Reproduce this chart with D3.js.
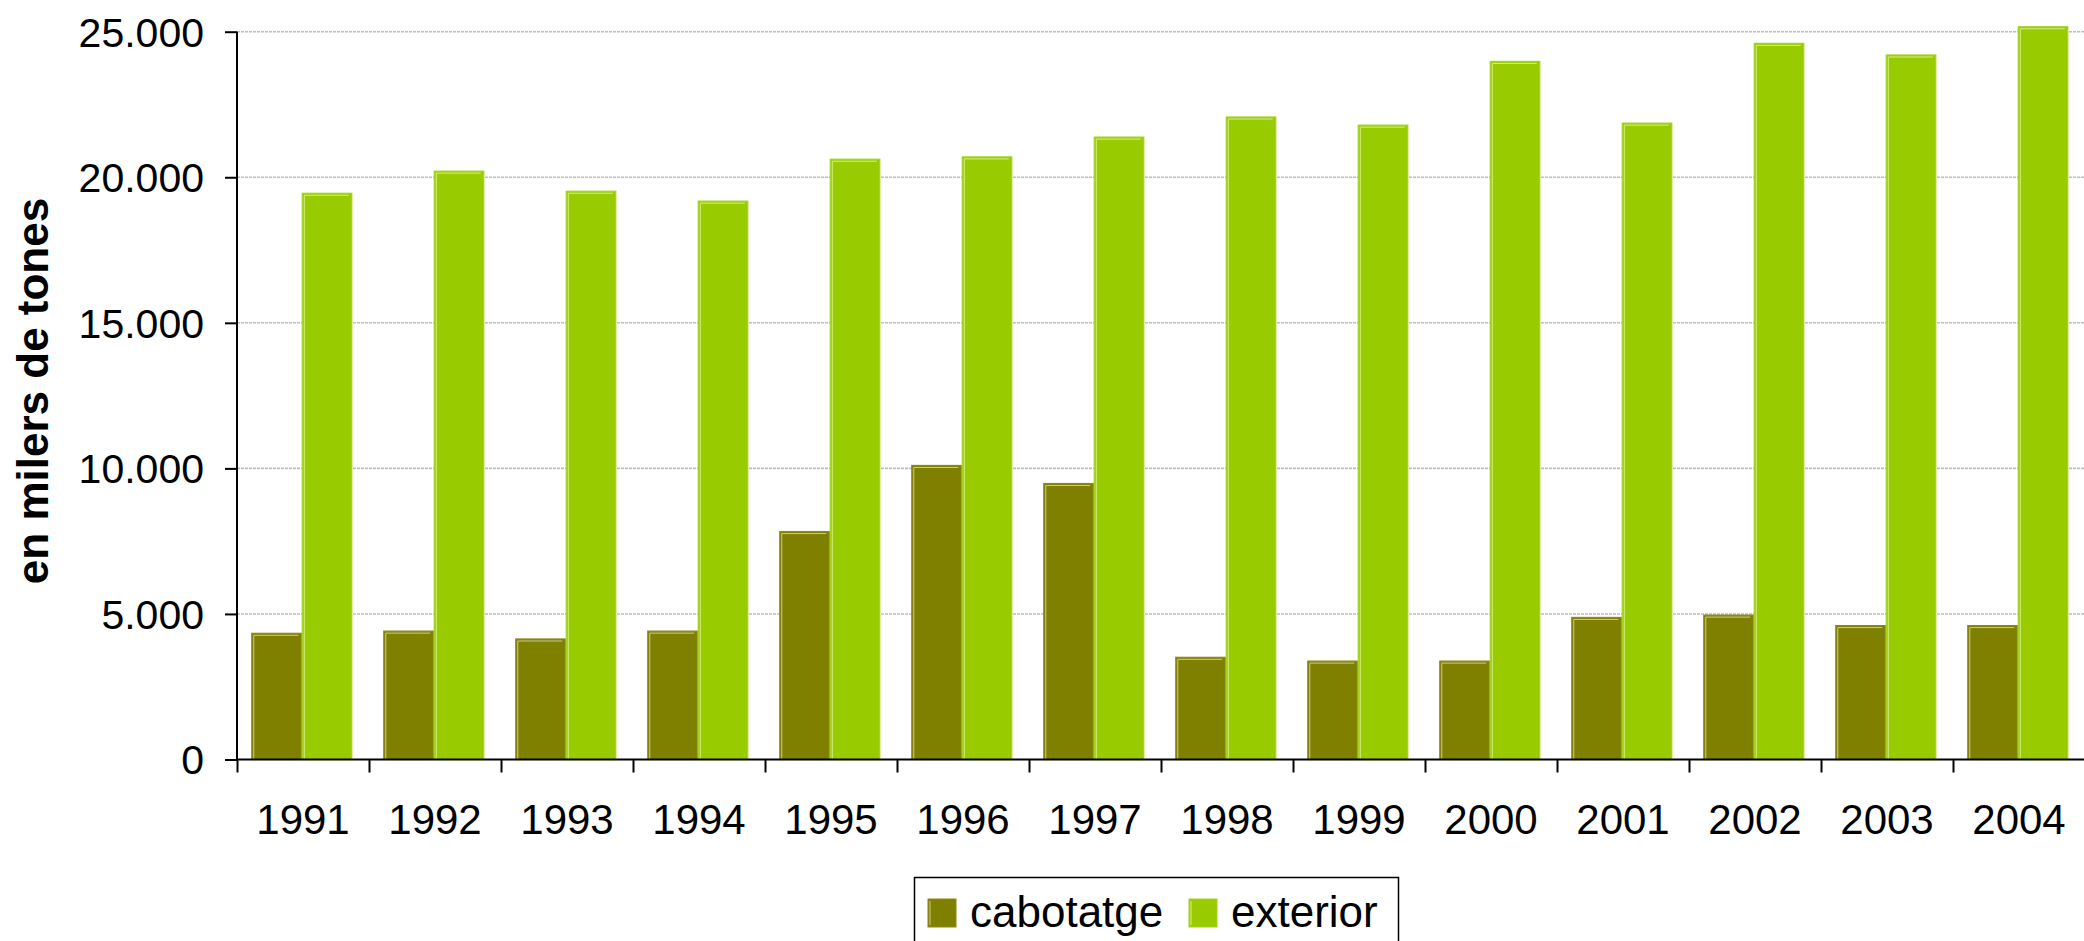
<!DOCTYPE html>
<html lang="ca">
<head>
<meta charset="UTF-8">
<title>cabotatge / exterior</title>
<script src="https://d3js.org/d3.v7.min.js"></script>
<style>
  html, body { margin: 0; padding: 0; background: #fff; }
  svg { display: block; font-family: Arial, "Liberation Sans", sans-serif; }
</style>
</head>
<body>
<div id="chart"></div>
<script>
// data (thousands of tonnes)
var years = ["1991","1992","1993","1994","1995","1996","1997","1998","1999","2000","2001","2002","2003","2004"];
var cabotatge = [4335, 4410, 4140, 4410, 7830, 10100, 9480, 3510, 3380, 3380, 4880, 4960, 4600, 4600];
var exterior = [19450, 20210, 19520, 19180, 20620, 20700, 21380, 22070, 21790, 23980, 21860, 24600, 24200, 25170];
var seriesNames = ["cabotatge", "exterior"];
var yTicks = [0, 5000, 10000, 15000, 20000, 25000];

var W = 2084, H = 941;
var plotLeft = 237, plotRight = 2085, plotTop = 31.7, plotBottom = 759.5;

var colors = { cabotatge: "#808000", exterior: "#99cc00" };
var strokes = { cabotatge: "#8a8a14", exterior: "#a3d41a" };
var shines = { cabotatge: "#c9c99a", exterior: "#d6ee8a" };

var svg = d3.select("#chart").append("svg")
  .attr("width", W).attr("height", H);

var x = d3.scaleBand().domain(years).range([plotLeft, plotRight]).padding(0);
var bw = x.bandwidth();
var x1 = d3.scaleBand().domain(seriesNames).range([bw * 0.112, bw * 0.877]).padding(0);
var y = d3.scaleLinear().domain([0, 25000]).range([plotBottom, plotTop]);

var loc = d3.formatLocale({ decimal: ",", thousands: ".", grouping: [3], currency: ["", ""] });
var fmt = loc.format(",d");

// gridlines
svg.append("g").selectAll("line")
  .data(yTicks.filter(function(d) { return d > 0; }))
  .enter().append("line")
  .attr("x1", plotLeft).attr("x2", W)
  .attr("y1", function(d) { return y(d); })
  .attr("y2", function(d) { return y(d); })
  .attr("stroke", "#bdbdbd")
  .attr("stroke-width", 1.6)
  .attr("stroke-dasharray", "3,1");

// bars
var rows = years.map(function(yr, i) {
  return { year: yr, vals: [
    { key: "cabotatge", value: cabotatge[i] },
    { key: "exterior", value: exterior[i] }
  ] };
});

var groups = svg.append("g").selectAll("g")
  .data(rows).enter().append("g")
  .attr("transform", function(d) { return "translate(" + x(d.year) + ",0)"; });

var bars = groups.selectAll("g").data(function(d) { return d.vals; }).enter().append("g");

bars.append("rect")
  .attr("x", function(d) { return x1(d.key); })
  .attr("y", function(d) { return y(d.value); })
  .attr("width", x1.bandwidth() - 1)
  .attr("height", function(d) { return y(0) - y(d.value); })
  .attr("fill", function(d) { return colors[d.key]; })
  .attr("stroke", function(d) { return strokes[d.key]; })
  .attr("stroke-width", 1.2);

// little highlight line along left and top edge
bars.append("path")
  .attr("d", function(d) {
    var bx = x1(d.key) + 2, by = y(d.value) + 2, bx2 = x1(d.key) + x1.bandwidth() - 4;
    return "M" + bx + "," + y(0) + "V" + by + "H" + bx2;
  })
  .attr("fill", "none")
  .attr("stroke", function(d) { return shines[d.key]; })
  .attr("stroke-width", 1);

// y axis
var yAxis = svg.append("g")
  .attr("transform", "translate(" + plotLeft + ",0)")
  .call(d3.axisLeft(y).tickValues(yTicks).tickFormat(fmt).tickSize(12).tickPadding(21));
yAxis.select(".domain").attr("stroke", "#000").attr("stroke-width", 2).attr("d", "M0," + plotTop + "V" + plotBottom);
yAxis.selectAll(".tick line").attr("stroke", "#000").attr("stroke-width", 2);
yAxis.selectAll(".tick text").attr("font-size", 41).attr("fill", "#000")
  .attr("font-family", "Arial, 'Liberation Sans', sans-serif").attr("dy", "0.35em");

// x axis line + ticks at category borders
var edge = d3.scaleLinear().domain([0, years.length]).range([plotLeft, plotRight]);
var xTickAxis = svg.append("g")
  .attr("transform", "translate(0," + plotBottom + ")")
  .call(d3.axisBottom(edge).tickValues(d3.range(0, years.length + 1)).tickSize(13).tickFormat(""));
xTickAxis.select(".domain").attr("stroke", "#000").attr("stroke-width", 2).attr("d", "M" + plotLeft + ",0H" + plotRight);
xTickAxis.selectAll(".tick line").attr("stroke", "#000").attr("stroke-width", 2);

var xAxis = svg.append("g")
  .attr("transform", "translate(0," + plotBottom + ")")
  .call(d3.axisBottom(x).tickSize(0).tickPadding(45));
xAxis.select(".domain").remove();
xAxis.selectAll(".tick text").attr("font-size", 42).attr("fill", "#000")
  .attr("font-family", "Arial, 'Liberation Sans', sans-serif");

// y title
svg.append("text")
  .attr("transform", "translate(48," + 391 + ") rotate(-90)")
  .attr("text-anchor", "middle")
  .attr("font-size", 44)
  .attr("font-weight", "bold")
  .text("en milers de tones");

// legend
var legend = svg.append("g");
legend.append("rect")
  .attr("x", 914.5).attr("y", 877.5).attr("width", 484).attr("height", 90)
  .attr("fill", "#fff").attr("stroke", "#000").attr("stroke-width", 1.5);

var legX = [928, 1189];
var items = legend.selectAll("g.item").data(seriesNames).enter().append("g")
  .attr("transform", function(d, i) { return "translate(" + legX[i] + ",0)"; });
items.append("rect")
  .attr("x", 0).attr("y", 899).attr("width", 28).attr("height", 28)
  .attr("fill", function(d) { return colors[d]; })
  .attr("stroke", function(d) { return strokes[d]; });
items.append("path")
  .attr("d", "M2,925V901")
  .attr("stroke", function(d) { return shines[d]; })
  .attr("stroke-width", 1);
items.append("text")
  .attr("x", 42).attr("y", 927)
  .attr("font-size", 44)
  .text(function(d) { return d; });
</script>
</body>
</html>
